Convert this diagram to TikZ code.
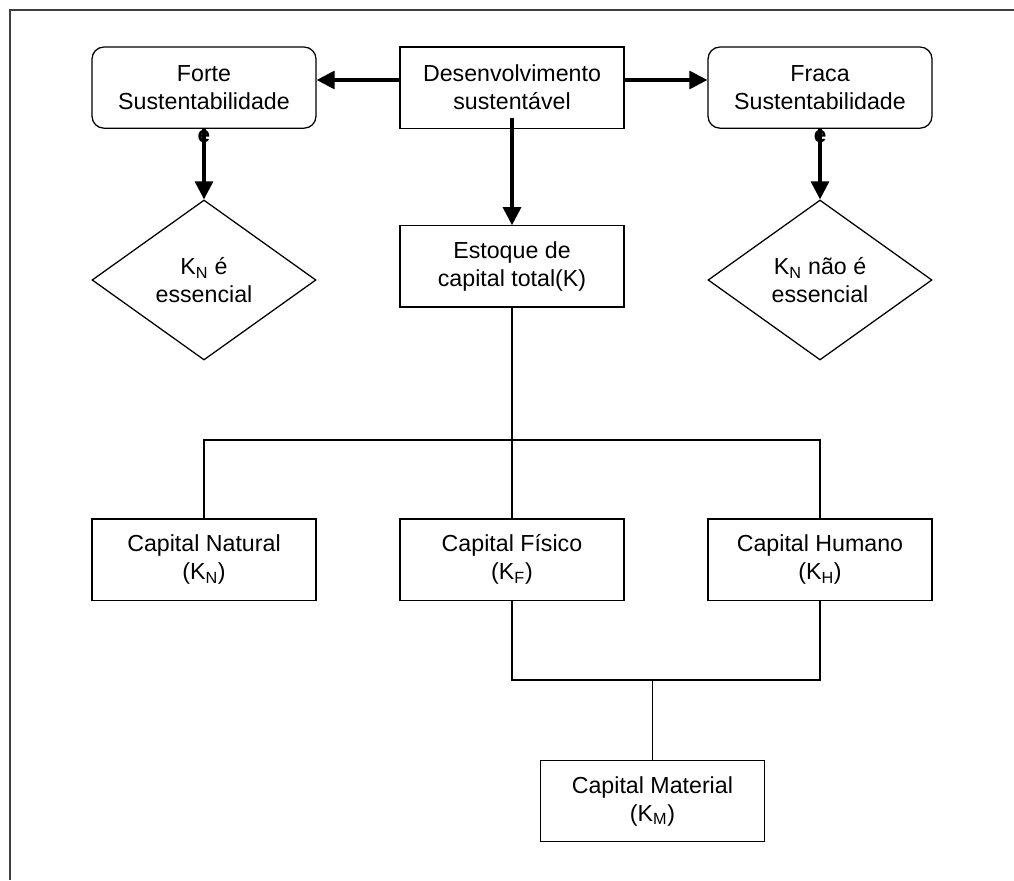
\documentclass[tikz,border=0pt]{standalone}
\usepackage{fontspec}
\setmainfont{Liberation Sans}
\usetikzlibrary{arrows.meta,shapes.geometric}

\tikzset{
    caixa/.style={draw, line width=0.9pt, minimum width=5.6cm, minimum height=2.03cm, align=center, inner sep=2pt},
    caixared/.style={caixa, rounded corners=0.3cm},
    losango/.style={draw, line width=0.9pt, diamond, minimum width=5.6cm, minimum height=4cm, align=center, inner sep=0pt, aspect=1.4},
    seta/.style={line width=2.2pt, -{Triangle[length=0.45cm,width=0.45cm]}},
    liga/.style={line width=0.9pt},
    letrae/.style={anchor=north, inner sep=0pt, font=\fontsize{16}{16}\selectfont\bfseries}
}

\begin{document}
\begin{tikzpicture}[font=\fontsize{16.5}{20}\selectfont]
            \useasboundingbox (0,0) rectangle (25.35,-22);
            \draw[line width=1pt, black!75] (25.35,-0.25) -- (0.25,-0.25) -- (0.25,-22);

            \node[caixared] (forte) at (5.1,-2.19) {Forte\\Sustentabilidade};
            \node[caixa] (desenv) at (12.8,-2.19) {Desenvolvimento\\sustentável};
            \node[caixared] (fraca) at (20.5,-2.19) {Fraca\\Sustentabilidade};

            \node[caixa] (estoque) at (12.8,-6.66) {Estoque de\\capital total(K)};
            \node[losango] (kness) at (5.1,-7) {K\textsubscript{N} é\\essencial};
            \node[losango] (knaoess) at (20.5,-7) {K\textsubscript{N} não é\\essencial};

            \node[caixa] (natural) at (5.1,-13.99) {Capital Natural\\(K\textsubscript{N})};
            \node[caixa] (fisico) at (12.8,-13.99) {Capital Físico\\(K\textsubscript{F})};
            \node[caixa] (humano) at (20.5,-13.99) {Capital Humano\\(K\textsubscript{H})};

            \node[caixa] (material) at (16.31,-20.03) {Capital Material\\(K\textsubscript{M})};

            % setas do topo
            \draw[seta] ([yshift=0.19cm]desenv.west) -- ([yshift=0.19cm]forte.east);
            \draw[seta] ([yshift=0.19cm]desenv.east) -- ([yshift=0.19cm]fraca.east -| fraca.west);
            \draw[seta] ([yshift=0.28cm]desenv.south) -- (estoque.north);
            \draw[seta] (forte.south) -- (kness.north);
            \draw[seta] (fraca.south) -- (knaoess.north);
            \node[letrae] (e1) at ([yshift=-0.02cm]forte.south) {e};
            \node[letrae] (e2) at ([yshift=-0.02cm]fraca.south) {e};

            % ramos
            \coordinate (ramo) at (12.8,-11);
            \draw[liga] (estoque.south) -- (ramo) -- (fisico.north);
            \draw[liga] (natural.north) |- (ramo) -| (humano.north);

            \coordinate (junta) at (16.31,-17);
            \draw[liga] (fisico.south) |- (junta) -| (humano.south);
            \draw[liga] (junta) -- (material.north);
        \end{tikzpicture}
\end{document}
